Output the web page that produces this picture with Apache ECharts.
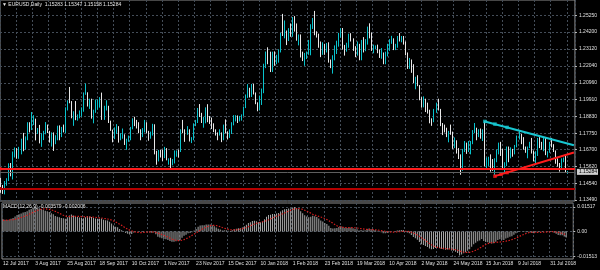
<!DOCTYPE html>
<html><head><meta charset="utf-8">
<script src="https://cdn.jsdelivr.net/npm/echarts@6/dist/echarts.min.js"></script>
<style>html,body{margin:0;padding:0;background:#000;}#c{width:600px;height:270px;}</style>
</head><body><div id="c"></div>
<script>
// trading days shown (categories)
const monthDays = [
 ['Jul 2017',[12,13,14,17,18,19,20,21,24,25,26,27,28,31]],
 ['Aug 2017',[1,2,3,4,7,8,9,10,11,14,15,16,17,18,21,22,23,24,25,28,29,30,31]],
 ['Sep 2017',[1,4,5,6,7,8,11,12,13,14,15,18,19,20,21,22,25,26,27,28,29]],
 ['Oct 2017',[2,3,4,5,6,9,10,11,12,13,16,17,18,19,20,23,24,25,26,27,30,31]],
 ['Nov 2017',[1,2,3,6,7,8,9,10,13,14,15,16,17,20,21,22,23,24,27,28,29,30]],
 ['Dec 2017',[1,4,5,6,7,8,11,12,13,14,15,18,19,20,21,22,26,27,28,29]],
 ['Jan 2018',[2,3,4,5,8,9,10,11,12,15,16,17,18,19,22,23,24,25,26,29,30,31]],
 ['Feb 2018',[1,2,5,6,7,8,9,12,13,14,15,16,19,20,21,22,23,26,27,28]],
 ['Mar 2018',[1,2,5,6,7,8,9,12,13,14,15,16,19,20,21,22,23,26,27,28,29,30]],
 ['Apr 2018',[2,3,4,5,6,9,10,11,12,13,16,17,18,19,20,23,24,25,26,27,30]],
 ['May 2018',[1,2,3,4,7,8,9,10,11,14,15,16,17,18,21,22,23,24,25,28,29,30,31]],
 ['Jun 2018',[1,4,5,6,7,8,11,12,13,14,15,18,19,20,21,22,25,26,27,28,29]],
 ['Jul 2018',[2,3,4,5,6,9,10,11,12,13,16,17,18,19,20,23,24,25,26,27,30,31]],
 ['Aug 2018',[1,2,3,6,7,8,9,10]]
];
const emptySlots = [' ','  ','   '];

// daily candles: [open, high, low, close]
const ohlc = [
[1.1462,1.1490,1.1395,1.1415],[1.1415,1.1445,1.1388,1.1398],[1.1398,1.1470,1.1385,1.1470],[1.1470,1.1488,1.1440,1.1478],[1.1478,1.1583,1.1470,1.1560],
[1.1560,1.1585,1.1500,1.1515],[1.1515,1.1658,1.1480,1.1632],[1.1632,1.1684,1.1620,1.1665],[1.1665,1.1680,1.1612,1.1641],[1.1641,1.1688,1.1612,1.1650],
[1.1650,1.1740,1.1640,1.1730],[1.1730,1.1777,1.1660,1.1677],[1.1677,1.1755,1.1670,1.1750],[1.1750,1.1845,1.1730,1.1840],[1.1840,1.1845,1.1780,1.1802],
[1.1802,1.1910,1.1795,1.1860],[1.1860,1.1890,1.1827,1.1866],[1.1866,1.1868,1.1729,1.1774],[1.1774,1.1808,1.1770,1.1792],[1.1792,1.1828,1.1710,1.1754],
[1.1754,1.1775,1.1688,1.1755],[1.1755,1.1790,1.1731,1.1775],[1.1775,1.1846,1.1768,1.1821],[1.1821,1.1830,1.1776,1.1780],[1.1780,1.1790,1.1715,1.1735],
[1.1735,1.1780,1.1690,1.1772],[1.1772,1.1780,1.1662,1.1723],[1.1723,1.1762,1.1705,1.1760],[1.1760,1.1823,1.1730,1.1814],[1.1814,1.1825,1.1730,1.1760],
[1.1760,1.1815,1.1750,1.1802],[1.1802,1.1830,1.1780,1.1795],[1.1795,1.1940,1.1775,1.1924],[1.1924,1.1985,1.1920,1.1978],[1.1978,1.2070,1.1966,1.1975],
[1.1975,1.1980,1.1870,1.1887],[1.1887,1.1915,1.1822,1.1906],[1.1906,1.1980,1.1858,1.1860],[1.1860,1.1895,1.1855,1.1885],[1.1885,1.1920,1.1870,1.1915],
[1.1915,1.1940,1.1880,1.1918],[1.1918,1.2035,1.1912,1.2025],[1.2025,1.2092,1.2020,1.2036],[1.2036,1.2036,1.1945,1.1953],[1.1953,1.1995,1.1930,1.1965],
[1.1965,1.1995,1.1868,1.1887],[1.1887,1.1925,1.1838,1.1920],[1.1920,1.1990,1.1905,1.1943],[1.1943,1.1990,1.1925,1.1950],[1.1950,1.2005,1.1938,1.1995],
[1.1995,1.2034,1.1860,1.1893],[1.1893,1.1950,1.1860,1.1942],[1.1942,1.1985,1.1920,1.1950],[1.1950,1.1950,1.1840,1.1850],[1.1850,1.1855,1.1790,1.1793],
[1.1793,1.1798,1.1717,1.1747],[1.1747,1.1812,1.1737,1.1785],[1.1785,1.1833,1.1770,1.1813],[1.1813,1.1820,1.1715,1.1733],[1.1733,1.1775,1.1730,1.1742],
[1.1742,1.1805,1.1740,1.1760],[1.1760,1.1768,1.1700,1.1705],[1.1705,1.1740,1.1669,1.1730],[1.1730,1.1760,1.1720,1.1738],[1.1738,1.1815,1.1730,1.1808],
[1.1808,1.1870,1.1800,1.1860],[1.1860,1.1880,1.1820,1.1825],[1.1825,1.1860,1.1805,1.1822],[1.1822,1.1845,1.1775,1.1797],[1.1797,1.1800,1.1730,1.1765],
[1.1765,1.1808,1.1750,1.1790],[1.1790,1.1860,1.1780,1.1843],[1.1843,1.1845,1.1775,1.1784],[1.1784,1.1790,1.1727,1.1760],[1.1760,1.1785,1.1740,1.1763],
[1.1763,1.1835,1.1760,1.1812],[1.1812,1.1832,1.1640,1.1652],[1.1652,1.1663,1.1574,1.1608],[1.1608,1.1668,1.1595,1.1653],[1.1653,1.1668,1.1620,1.1645],
[1.1645,1.1670,1.1598,1.1620],[1.1620,1.1688,1.1616,1.1660],[1.1660,1.1680,1.1602,1.1608],[1.1608,1.1615,1.1574,1.1610],[1.1610,1.1618,1.1553,1.1590],
[1.1590,1.1610,1.1570,1.1592],[1.1592,1.1665,1.1582,1.1640],[1.1640,1.1665,1.1625,1.1665],[1.1665,1.1670,1.1620,1.1663],[1.1663,1.1800,1.1655,1.1795],
[1.1795,1.1860,1.1775,1.1794],[1.1794,1.1800,1.1720,1.1770],[1.1770,1.1820,1.1765,1.1792],[1.1792,1.1800,1.1722,1.1735],[1.1735,1.1750,1.1712,1.1737],
[1.1737,1.1838,1.1730,1.1820],[1.1820,1.1860,1.1820,1.1850],[1.1850,1.1936,1.1840,1.1932],[1.1932,1.1961,1.1878,1.1896],[1.1896,1.1905,1.1840,1.1843],
[1.1843,1.1880,1.1810,1.1845],[1.1845,1.1940,1.1838,1.1905],[1.1905,1.1960,1.1845,1.1895],[1.1870,1.1885,1.1834,1.1866],[1.1866,1.1875,1.1802,1.1825],
[1.1825,1.1838,1.1782,1.1796],[1.1796,1.1800,1.1760,1.1773],[1.1773,1.1780,1.1730,1.1765],[1.1765,1.1800,1.1760,1.1772],[1.1772,1.1780,1.1718,1.1740],
[1.1740,1.1830,1.1730,1.1825],[1.1825,1.1863,1.1775,1.1780],[1.1780,1.1787,1.1735,1.1750],[1.1750,1.1800,1.1745,1.1782],[1.1782,1.1845,1.1770,1.1843],
[1.1843,1.1890,1.1825,1.1872],[1.1872,1.1890,1.1850,1.1875],[1.1875,1.1888,1.1840,1.1860],[1.1860,1.1885,1.1850,1.1860],[1.1860,1.1895,1.1855,1.1890],
[1.1890,1.1945,1.1885,1.1940],[1.1940,1.2022,1.1935,1.2005],[1.2005,1.2088,1.2000,1.2060],[1.2060,1.2065,1.2003,1.2015],[1.2015,1.2089,1.2006,1.2068],
[1.2068,1.2090,1.2022,1.2030],[1.2030,1.2035,1.1960,1.1967],[1.1967,1.1972,1.1915,1.1937],[1.1937,1.2015,1.1920,1.1995],[1.1995,1.2060,1.1955,1.2035],
[1.2035,1.2218,1.2030,1.2200],[1.2200,1.2296,1.2190,1.2265],[1.2265,1.2323,1.2215,1.2262],[1.2262,1.2295,1.2165,1.2175],[1.2175,1.2295,1.2165,1.2237],
[1.2237,1.2297,1.2205,1.2225],[1.2225,1.2275,1.2215,1.2260],[1.2260,1.2310,1.2225,1.2300],[1.2300,1.2415,1.2290,1.2410],[1.2410,1.2536,1.2395,1.2398],
[1.2398,1.2494,1.2380,1.2427],[1.2427,1.2430,1.2337,1.2383],[1.2383,1.2445,1.2363,1.2415],[1.2415,1.2475,1.2390,1.2410],[1.2410,1.2516,1.2390,1.2505],
[1.2505,1.2522,1.2423,1.2460],[1.2460,1.2475,1.2365,1.2370],[1.2370,1.2405,1.2335,1.2380],[1.2380,1.2405,1.2258,1.2263],[1.2263,1.2295,1.2235,1.2250],
[1.2250,1.2287,1.2205,1.2252],[1.2252,1.2296,1.2248,1.2290],[1.2290,1.2370,1.2275,1.2352],[1.2352,1.2470,1.2272,1.2450],[1.2450,1.2510,1.2440,1.2505],
[1.2505,1.2555,1.2400,1.2410],[1.2410,1.2425,1.2385,1.2405],[1.2405,1.2410,1.2320,1.2335],[1.2335,1.2360,1.2260,1.2285],[1.2285,1.2355,1.2275,1.2330],
[1.2330,1.2345,1.2275,1.2295],[1.2295,1.2350,1.2290,1.2320],[1.2320,1.2355,1.2225,1.2232],[1.2232,1.2245,1.2190,1.2195],[1.2195,1.2272,1.2155,1.2265],
[1.2265,1.2335,1.2240,1.2318],[1.2318,1.2365,1.2280,1.2335],[1.2335,1.2415,1.2327,1.2405],[1.2405,1.2445,1.2385,1.2410],[1.2410,1.2446,1.2308,1.2312],
[1.2312,1.2338,1.2270,1.2306],[1.2306,1.2352,1.2295,1.2335],[1.2335,1.2410,1.2320,1.2390],[1.2390,1.2413,1.2360,1.2370],[1.2370,1.2380,1.2300,1.2305],
[1.2305,1.2330,1.2260,1.2287],[1.2287,1.2360,1.2270,1.2335],[1.2335,1.2345,1.2240,1.2240],[1.2240,1.2370,1.2240,1.2350],[1.2350,1.2388,1.2290,1.2300],
[1.2300,1.2375,1.2298,1.2355],[1.2355,1.2455,1.2340,1.2450],[1.2450,1.2476,1.2380,1.2403],[1.2403,1.2418,1.2300,1.2310],[1.2310,1.2340,1.2285,1.2320],
[1.2320,1.2335,1.2310,1.2325],[1.2325,1.2340,1.2285,1.2300],[1.2300,1.2310,1.2255,1.2270],[1.2270,1.2318,1.2250,1.2275],[1.2275,1.2290,1.2215,1.2235],
[1.2235,1.2295,1.2215,1.2280],[1.2280,1.2345,1.2265,1.2320],[1.2320,1.2375,1.2300,1.2355],[1.2355,1.2396,1.2345,1.2370],[1.2370,1.2380,1.2305,1.2325],
[1.2325,1.2345,1.2305,1.2330],[1.2330,1.2395,1.2320,1.2383],[1.2383,1.2414,1.2360,1.2370],[1.2370,1.2395,1.2355,1.2375],[1.2375,1.2395,1.2340,1.2345],
[1.2345,1.2360,1.2272,1.2285],[1.2285,1.2290,1.2185,1.2210],[1.2210,1.2255,1.2185,1.2235],[1.2235,1.2245,1.2160,1.2165],[1.2165,1.2215,1.2095,1.2105],
[1.2105,1.2135,1.2055,1.2130],[1.2130,1.2145,1.2075,1.2078],[1.2078,1.2082,1.1985,1.1990],[1.1990,1.2005,1.1938,1.1950],[1.1950,1.2010,1.1940,1.1990],
[1.1990,1.1995,1.1910,1.1960],[1.1960,1.1970,1.1900,1.1920],[1.1920,1.1925,1.1838,1.1865],[1.1865,1.1870,1.1822,1.1850],[1.1850,1.1930,1.1845,1.1918],
[1.1918,1.1970,1.1905,1.1940],[1.1940,1.1995,1.1920,1.1925],[1.1925,1.1930,1.1820,1.1835],[1.1835,1.1840,1.1763,1.1810],[1.1810,1.1830,1.1780,1.1795],
[1.1795,1.1810,1.1750,1.1770],[1.1770,1.1790,1.1717,1.1790],[1.1790,1.1830,1.1765,1.1780],[1.1780,1.1785,1.1675,1.1695],[1.1695,1.1748,1.1680,1.1720],
[1.1720,1.1730,1.1645,1.1650],[1.1650,1.1680,1.1610,1.1625],[1.1625,1.1640,1.1510,1.1537],[1.1537,1.1675,1.1535,1.1663],[1.1663,1.1725,1.1655,1.1693],
[1.1693,1.1715,1.1643,1.1658],[1.1658,1.1725,1.1655,1.1695],[1.1695,1.1725,1.1640,1.1715],[1.1715,1.1795,1.1705,1.1775],[1.1775,1.1840,1.1775,1.1800],
[1.1800,1.1810,1.1730,1.1767],[1.1767,1.1800,1.1750,1.1780],[1.1780,1.1805,1.1740,1.1750],[1.1750,1.1800,1.1725,1.1793],[1.1793,1.1852,1.1564,1.1570],
[1.1570,1.1620,1.1542,1.1610],[1.1610,1.1625,1.1565,1.1625],[1.1625,1.1640,1.1530,1.1590],[1.1590,1.1610,1.1535,1.1570],[1.1570,1.1615,1.1508,1.1605],
[1.1605,1.1670,1.1590,1.1655],[1.1655,1.1715,1.1640,1.1700],[1.1700,1.1720,1.1630,1.1645],[1.1645,1.1675,1.1540,1.1555],[1.1555,1.1590,1.1527,1.1570],
[1.1570,1.1690,1.1565,1.1684],[1.1684,1.1690,1.1590,1.1640],[1.1640,1.1685,1.1615,1.1660],[1.1660,1.1675,1.1625,1.1650],[1.1650,1.1700,1.1640,1.1690],
[1.1690,1.1760,1.1685,1.1745],[1.1745,1.1791,1.1735,1.1750],[1.1750,1.1770,1.1705,1.1745],[1.1745,1.1750,1.1670,1.1675],[1.1675,1.1690,1.1650,1.1665],
[1.1665,1.1690,1.1615,1.1685],[1.1685,1.1720,1.1680,1.1710],[1.1710,1.1745,1.1645,1.1660],[1.1660,1.1665,1.1595,1.1640],[1.1640,1.1660,1.1575,1.1640],
[1.1640,1.1745,1.1630,1.1720],[1.1720,1.1750,1.1680,1.1690],[1.1690,1.1720,1.1670,1.1685],[1.1685,1.1745,1.1660,1.1730],[1.1730,1.1750,1.1635,1.1640],
[1.1640,1.1660,1.1620,1.1655],[1.1655,1.1720,1.1650,1.1705],[1.1705,1.1745,1.1685,1.1690],[1.1690,1.1705,1.1655,1.1660],[1.1660,1.1665,1.1580,1.1585],
[1.1585,1.1615,1.1562,1.1570],[1.1570,1.1585,1.1530,1.1552],[1.1552,1.1615,1.1545,1.1600],[1.1600,1.1620,1.1590,1.1610],[1.1610,1.1630,1.1527,1.1528],
[1.15283,1.15347,1.15158,1.15284]
];

const macdMain = [
0.0075,0.0072,0.0071,0.0072,0.0078,0.0083,0.0092,0.0101,0.0106,0.0110,
0.0117,0.0120,0.0125,0.0133,0.0138,0.0145,0.0149,0.0146,0.0143,0.0138,
0.0133,0.0128,0.0125,0.0120,0.0112,0.0106,0.0096,0.0091,0.0088,0.0083,
0.0081,0.0078,0.0088,0.0098,0.0104,0.0099,0.0096,0.0090,0.0086,0.0084,
0.0082,0.0088,0.0095,0.0092,0.0090,0.0083,0.0080,0.0079,0.0078,0.0080,
0.0072,0.0070,0.0068,0.0060,0.0050,0.0037,0.0030,0.0026,0.0016,0.0008,
0.0002,-0.0008,-0.0014,-0.0018,-0.0015,-0.0006,0.0000,0.0002,0.0001,-0.0003,
-0.0004,0.0001,-0.0001,-0.0005,-0.0007,-0.0004,-0.0017,-0.0031,-0.0037,-0.0041,
-0.0046,-0.0047,-0.0052,-0.0057,-0.0062,-0.0063,-0.0060,-0.0055,-0.0051,-0.0038,
-0.0026,-0.0019,-0.0011,-0.0008,-0.0004,0.0006,0.0016,0.0030,0.0037,0.0038,
0.0039,0.0043,0.0044,0.0043,0.0038,0.0032,0.0025,0.0018,0.0013,0.0006,
0.0008,0.0008,0.0005,0.0004,0.0008,0.0014,0.0018,0.0020,0.0021,0.0025,
0.0032,0.0042,0.0053,0.0057,0.0064,0.0066,0.0063,0.0057,0.0057,0.0060,
0.0076,0.0091,0.0102,0.0103,0.0107,0.0108,0.0110,0.0113,0.0123,0.0130,
0.0137,0.0138,0.0141,0.0141,0.0148,0.0150,0.0144,0.0138,0.0124,0.0112,
0.0100,0.0093,0.0088,0.0091,0.0097,0.0094,0.0089,0.0080,0.0068,0.0062,
0.0053,0.0047,0.0035,0.0022,0.0019,0.0020,0.0022,0.0028,0.0032,0.0027,
0.0023,0.0022,0.0024,0.0025,0.0021,0.0016,0.0014,0.0006,0.0010,0.0007,
0.0008,0.0016,0.0019,0.0014,0.0011,0.0009,0.0005,0.0000,-0.0004,-0.0010,
-0.0011,-0.0008,-0.0003,0.0001,0.0001,0.0002,0.0006,0.0008,0.0010,0.0009,
0.0004,-0.0006,-0.0011,-0.0021,-0.0034,-0.0041,-0.0050,-0.0064,-0.0077,-0.0083,
-0.0089,-0.0095,-0.0103,-0.0108,-0.0106,-0.0100,-0.0096,-0.0100,-0.0105,-0.0108,
-0.0111,-0.0110,-0.0109,-0.0116,-0.0118,-0.0124,-0.0131,-0.0146,-0.0141,-0.0133,
-0.0127,-0.0118,-0.0108,-0.0093,-0.0078,-0.0069,-0.0060,-0.0055,-0.0046,-0.0058,
-0.0064,-0.0066,-0.0070,-0.0073,-0.0071,-0.0063,-0.0052,-0.0047,-0.0050,-0.0051,
-0.0042,-0.0038,-0.0032,-0.0028,-0.0020,-0.0010,-0.0002,0.0003,0.0000,-0.0003,
-0.0004,-0.0003,-0.0006,-0.0009,-0.0011,-0.0004,-0.0002,-0.0001,0.0004,0.0000,
-0.0001,0.0002,0.0003,0.0001,-0.0007,-0.0014,-0.0021,-0.0022,-0.0022,-0.0030,
-0.003579
];
const macdSignal = [
0.0068,0.0069,0.0070,0.0071,0.0072,0.0073,0.0075,0.0078,0.0082,0.0086,
0.0090,0.0095,0.0100,0.0106,0.0112,0.0118,0.0124,0.0129,0.0134,0.0137,
0.0139,0.0139,0.0138,0.0136,0.0133,0.0129,0.0124,0.0118,0.0112,0.0106,
0.0100,0.0095,0.0093,0.0092,0.0092,0.0093,0.0093,0.0093,0.0093,0.0092,
0.0091,0.0090,0.0090,0.0089,0.0089,0.0088,0.0087,0.0086,0.0084,0.0083,
0.0081,0.0079,0.0077,0.0074,0.0070,0.0065,0.0059,0.0052,0.0045,0.0038,
0.0030,0.0022,0.0015,0.0009,0.0004,0.0000,-0.0003,-0.0005,-0.0006,-0.0006,
-0.0005,-0.0004,-0.0003,-0.0002,-0.0002,-0.0003,-0.0005,-0.0009,-0.0013,-0.0018,
-0.0023,-0.0028,-0.0034,-0.0040,-0.0046,-0.0050,-0.0053,-0.0055,-0.0055,-0.0053,
-0.0049,-0.0044,-0.0038,-0.0031,-0.0023,-0.0016,-0.0008,0.0000,0.0008,0.0015,
0.0021,0.0027,0.0032,0.0036,0.0038,0.0038,0.0037,0.0034,0.0030,0.0025,
0.0021,0.0017,0.0014,0.0011,0.0010,0.0010,0.0011,0.0013,0.0015,0.0018,
0.0021,0.0025,0.0030,0.0035,0.0041,0.0046,0.0050,0.0054,0.0057,0.0060,
0.0063,0.0067,0.0072,0.0078,0.0083,0.0089,0.0094,0.0099,0.0104,0.0109,
0.0114,0.0120,0.0125,0.0130,0.0135,0.0139,0.0141,0.0141,0.0139,0.0136,
0.0131,0.0125,0.0119,0.0113,0.0106,0.0101,0.0097,0.0093,0.0089,0.0085,
0.0080,0.0074,0.0067,0.0059,0.0051,0.0043,0.0036,0.0031,0.0028,0.0026,
0.0025,0.0024,0.0024,0.0024,0.0024,0.0023,0.0022,0.0020,0.0018,0.0016,
0.0014,0.0013,0.0013,0.0012,0.0012,0.0011,0.0010,0.0008,0.0006,0.0004,
0.0002,0.0000,-0.0002,-0.0003,-0.0003,-0.0003,-0.0002,-0.0001,0.0000,0.0001,
0.0002,0.0002,0.0000,-0.0004,-0.0009,-0.0014,-0.0021,-0.0029,-0.0037,-0.0046,
-0.0055,-0.0064,-0.0073,-0.0081,-0.0088,-0.0093,-0.0097,-0.0100,-0.0102,-0.0103,
-0.0104,-0.0105,-0.0106,-0.0107,-0.0109,-0.0111,-0.0114,-0.0119,-0.0123,-0.0126,
-0.0128,-0.0128,-0.0127,-0.0124,-0.0120,-0.0114,-0.0108,-0.0101,-0.0093,-0.0086,
-0.0079,-0.0074,-0.0070,-0.0068,-0.0067,-0.0066,-0.0065,-0.0064,-0.0063,-0.0061,
-0.0059,-0.0056,-0.0053,-0.0049,-0.0045,-0.0040,-0.0034,-0.0028,-0.0022,-0.0017,
-0.0012,-0.0008,-0.0005,-0.0004,-0.0004,-0.0005,-0.0005,-0.0005,-0.0004,-0.0003,
-0.0003,-0.0002,-0.0001,0.0000,-0.0001,-0.0003,-0.0005,-0.0008,-0.0011,-0.0015,
-0.002006
];

const priceTicks = [1.1349,1.1454,1.1562,1.1670,1.1775,1.1883,1.1991,1.2096,1.2204,1.2312,1.2420,1.2525];
const macdTicks = [-0.01513, 0, 0.01517];
const currentPrice = 1.15284;
const redLevel = 1.1549;
const darkRedLevel = 1.1423;
const cyanTrend = [[239, 1.1850], [283, 1.1698]];
const redTrend = [[244, 1.1501], [283, 1.1652]];
const cyanAnchors = [[239, 1.1850], [244, 1.1833], [250, 1.1812]];
const redAnchors = [[244, 1.1501], [247, 1.1513], [250, 1.1524]];
const headerText = '\u25BC EURUSD,Daily  1.15283 1.15347 1.15158 1.15284';
const macdText = 'MACD(12,26,9) -0.003579 -0.002006';

const dates = [];
monthDays.forEach(([m, ds]) => ds.forEach(d => dates.push(d + ' ' + m)));
const cats = dates.concat(emptySlots);
const lastLabelIdx = dates.indexOf('31 Jul 2018');

const FONT = 'Liberation Sans, Arial, sans-serif';
const gridLine = {show: true, lineStyle: {color: '#444d58', width: 1, type: [2, 2]}};
const vGrid = Object.assign({interval: (i) => i % 8 === 0}, gridLine);

const chart = echarts.init(document.getElementById('c'), null, {renderer: 'canvas'});
chart.setOption({
  backgroundColor: '#000000',
  animation: false,
  textStyle: {fontFamily: FONT},
  title: [
    {text: headerText, left: 2, top: 2.5, padding: 0, textStyle: {color: '#e6e6e6', fontSize: 5, fontWeight: 'normal', fontFamily: FONT}},
    {text: macdText, left: 3, top: 204.5, padding: 0, textStyle: {color: '#e6e6e6', fontSize: 5, fontWeight: 'normal', fontFamily: FONT}}
  ],
  grid: [
    {left: 0, top: -1, width: 578, height: 202, show: true, borderColor: '#8e8e8e', borderWidth: 1, backgroundColor: 'transparent'},
    {left: 0, top: 203, width: 578, height: 56, show: true, borderColor: '#8e8e8e', borderWidth: 1, backgroundColor: 'transparent'}
  ],
  xAxis: [
    {type: 'category', gridIndex: 0, data: cats, boundaryGap: true,
     axisLine: {show: false}, axisTick: {show: false}, axisLabel: {show: false}, splitLine: vGrid},
    {type: 'category', gridIndex: 1, data: cats, boundaryGap: true,
     axisLine: {show: false}, axisTick: {show: false}, splitLine: vGrid,
     axisLabel: {show: true, interval: (i) => i % 16 === 0 && i <= lastLabelIdx, align: 'left',
       color: '#e0e0e0', fontSize: 5, margin: 2.5, fontFamily: FONT}}
  ],
  yAxis: [
    {type: 'value', gridIndex: 0, position: 'right', min: 1.13426, max: 1.26246, scale: true,
     axisLine: {show: false},
     axisTick: {show: true, length: 2, customValues: priceTicks, lineStyle: {color: '#bdbdbd'}},
     axisLabel: {show: true, customValues: priceTicks, color: '#e0e0e0', fontSize: 5, margin: 4, fontFamily: FONT,
       formatter: (v) => v.toFixed(5)},
     splitLine: gridLine},
    {type: 'value', gridIndex: 1, position: 'right', min: -0.0168, max: 0.0175,
     axisLine: {show: false},
     axisTick: {show: true, length: 2, customValues: macdTicks, lineStyle: {color: '#bdbdbd'}},
     axisLabel: {show: true, customValues: macdTicks, color: '#e0e0e0', fontSize: 5, margin: 4, fontFamily: FONT,
       formatter: (v) => (Math.abs(v) < 1e-9 ? '0.00' : v.toFixed(5))},
     splitLine: gridLine}
  ],
  series: [
    {type: 'candlestick', xAxisIndex: 0, yAxisIndex: 0, barWidth: 1,
     data: ohlc.map(r => [r[0], r[3], r[2], r[1]]),
     itemStyle: {color: '#08c2cc', color0: '#f4f4f4', borderColor: '#08c2cc', borderColor0: '#e8e8e8', borderWidth: 1}},
    {type: 'scatter', xAxisIndex: 0, yAxisIndex: 0, symbol: 'rect', symbolSize: 3.5, silent: true,
     itemStyle: {color: '#18c6d0'}, data: cyanAnchors, z: 3,
     markLine: {silent: true, animation: false, precision: 6, symbol: 'none', label: {show: false},
       data: [
         {yAxis: currentPrice, lineStyle: {color: '#5e5e5e', width: 1, type: 'solid'},
          label: {show: true, position: 'end', distance: 2, formatter: currentPrice.toFixed(5), color: '#000', backgroundColor: '#cfcfcf', fontSize: 5, padding: [1, 1, 0, 2], fontFamily: FONT}},
         {yAxis: redLevel, symbol: ['rect', 'rect'], symbolSize: 3, lineStyle: {color: '#ff1c1c', width: 2, type: 'solid'}},
         {yAxis: darkRedLevel, symbol: ['rect', 'rect'], symbolSize: 3, lineStyle: {color: '#b40000', width: 2, type: 'solid'}},
         [{coord: cyanTrend[0]}, {coord: cyanTrend[1], lineStyle: {color: '#18c6d0', width: 2, type: 'solid'}}],
         [{coord: redTrend[0]}, {coord: redTrend[1], lineStyle: {color: '#ff1c1c', width: 2, type: 'solid'}}]
       ]}},
    {type: 'scatter', xAxisIndex: 0, yAxisIndex: 0, symbol: 'rect', symbolSize: 3.5, silent: true,
     itemStyle: {color: '#ff1c1c'}, data: redAnchors, z: 3},
    {type: 'bar', xAxisIndex: 1, yAxisIndex: 1, barWidth: 1, data: macdMain,
     itemStyle: {color: '#a9a9a9'}, silent: true},
    {type: 'line', xAxisIndex: 1, yAxisIndex: 1, data: macdSignal, showSymbol: false, symbol: 'none', silent: true,
     lineStyle: {color: '#d41e1e', width: 1.2, type: [1.5, 1.5]}}
  ]
});
</script></body></html>
